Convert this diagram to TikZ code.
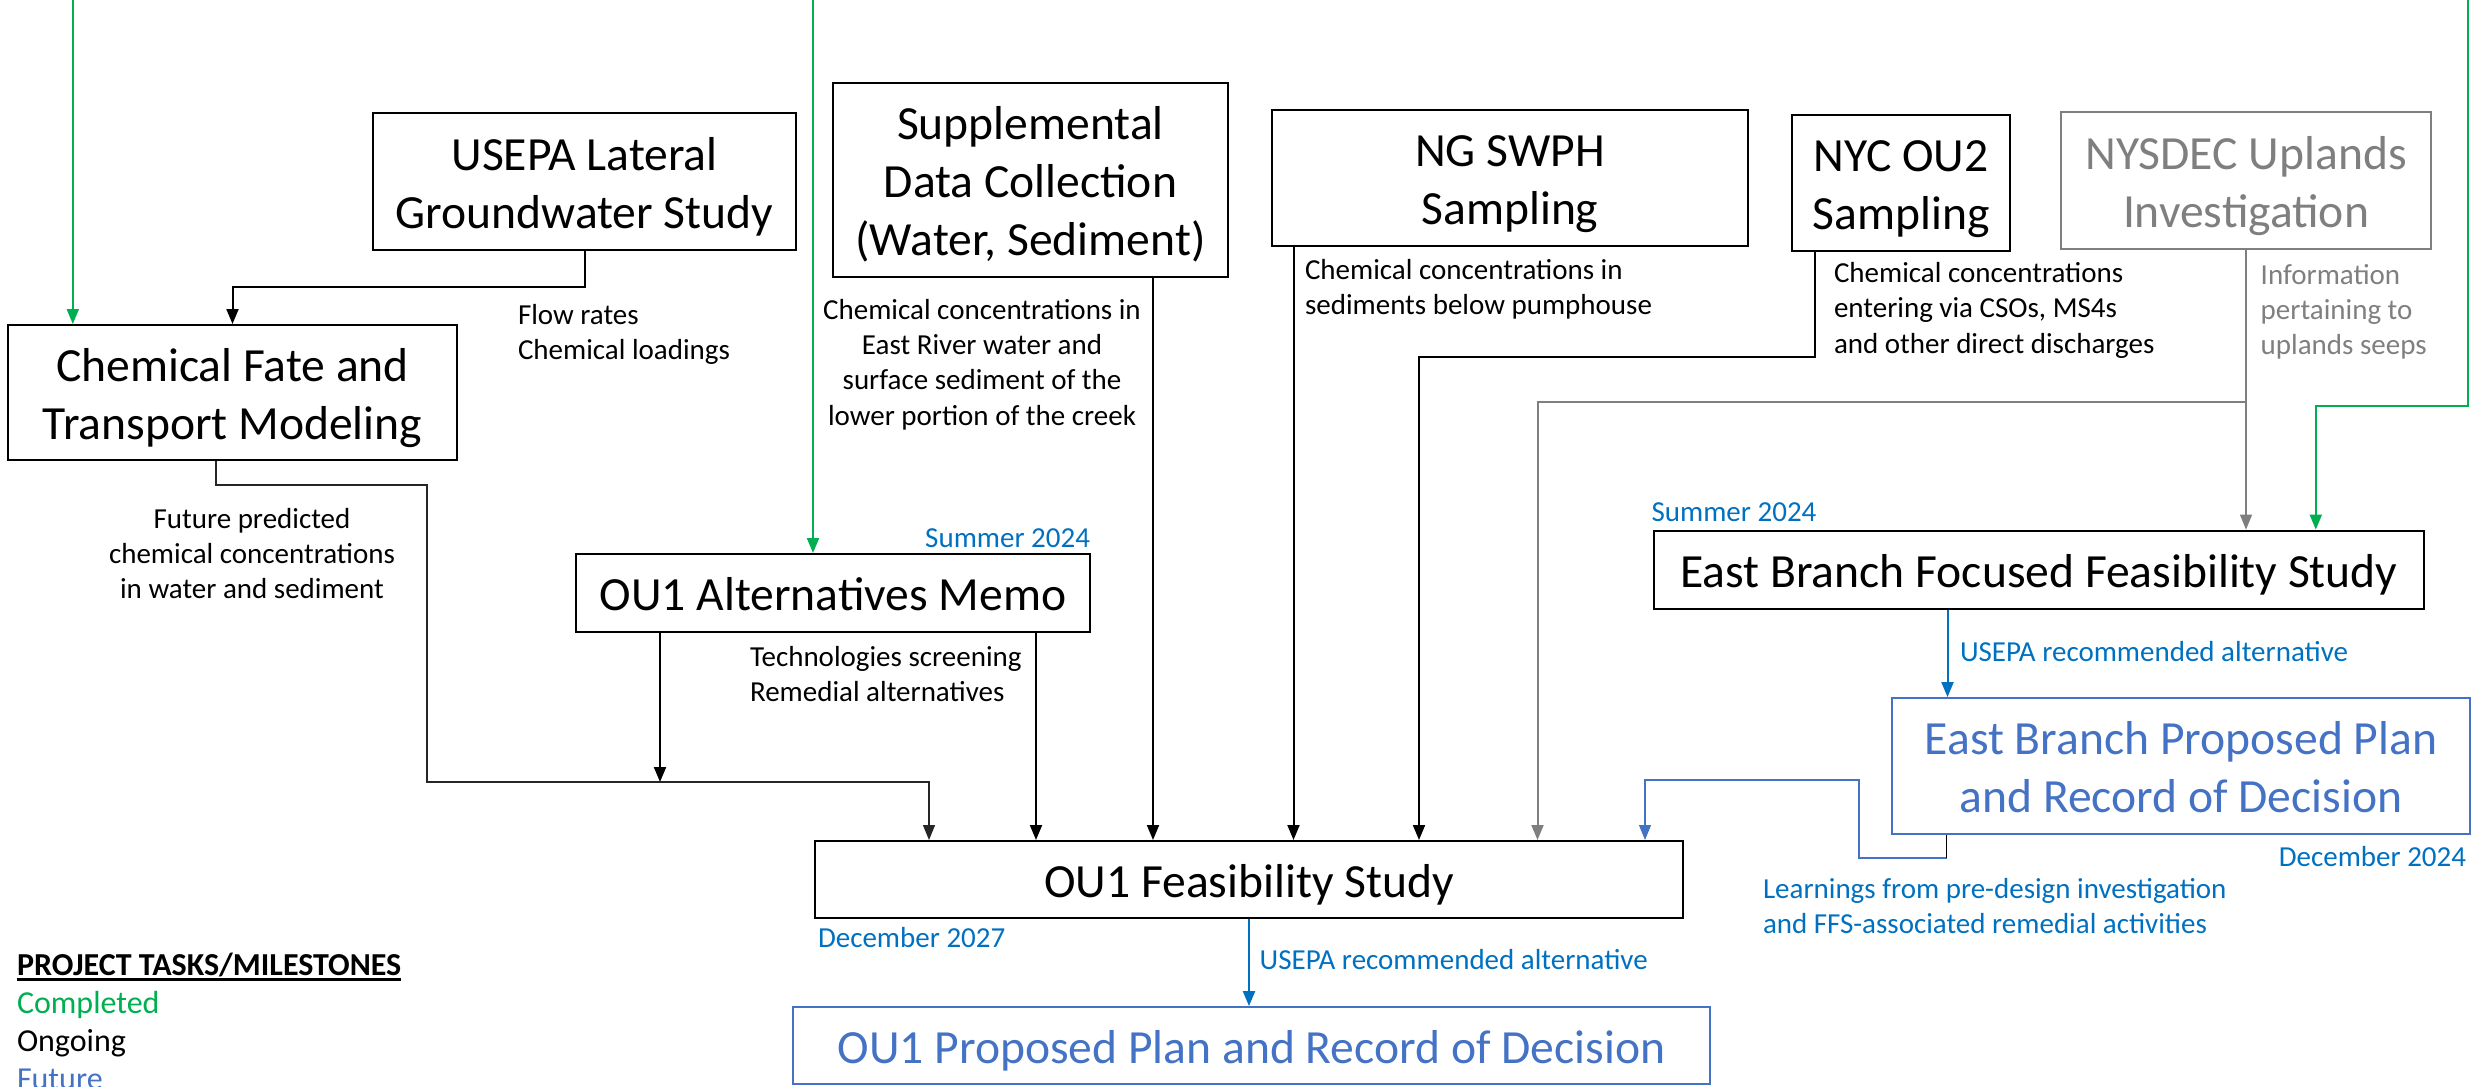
\documentclass[tikz,border=0pt]{standalone}
\usepackage{fontspec}
\setmainfont{Carlito}
\usetikzlibrary{arrows.meta}
\definecolor{cgreen}{HTML}{00B050}
\definecolor{cblue}{HTML}{0070C0}
\definecolor{cacc}{HTML}{4472C4}
\definecolor{cgray}{HTML}{7F7F7F}
\newcommand\bigf{\fontsize{47.6}{58}\selectfont}
\newcommand\smallf{\fontsize{29}{35.4}\selectfont}
\newcommand\legf{\fontsize{32}{38}\selectfont}
\newcommand\mytop{\rule{0pt}{49.9pt}}
\newcommand\mybot{\rule[-14.3pt]{0pt}{14.3pt}}
\newsavebox\myulbox
\newcommand\myul[1]{\sbox\myulbox{#1}\rlap{\rule[-5.5pt]{\wd\myulbox}{2.8pt}}\usebox\myulbox}
\tikzset{
  box/.style={draw, line width=2pt, inner sep=0pt, align=center, font=\bigf},
  futbox/.style={box, draw=cacc, text=cacc, line width=1.8pt},
  lbl/.style={inner sep=0pt, outer sep=0pt, font=\smallf, anchor=north west, align=left},
  lblc/.style={lbl, anchor=north, align=center},
  lblr/.style={lbl, anchor=north east, align=right},
  arrowtip/.style={-{Triangle[length=15pt,width=12pt]}},
  conn/.style={arrowtip, line width=2pt, black},
  thinconn/.style={arrowtip, line width=1.3pt, black!85},
  gconn/.style={arrowtip, line width=2pt, cgreen},
  grconn/.style={arrowtip, line width=2pt, cgray},
  grthin/.style={arrowtip, line width=1.3pt, cgray},
  bconn/.style={arrowtip, line width=2pt, cblue},
  lconn/.style={arrowtip, line width=1.3pt, cacc},
}
\begin{document}
\begin{tikzpicture}[x=1pt,y=-1pt]
\useasboundingbox (0,0) rectangle (2474,1087);

% boxes
\node[box, minimum width=423, minimum height=137] (usepa) at (584.5,181.5) {\mytop USEPA Lateral\\Groundwater Study\mybot};
\node[box, minimum width=449, minimum height=135] (chemfate) at (232.5,392.5) {\mytop Chemical Fate and\\Transport Modeling\mybot};
\node[box, minimum width=395, minimum height=194] (supp) at (1030.5,179.5) {\mytop Supplemental\\Data Collection\\(Water, Sediment)\mybot};
\node[box, minimum width=476, minimum height=136] (ngswph) at (1510,178) {\mytop NG SWPH\\Sampling\mybot};
\node[box, minimum width=218, minimum height=136] (nyc) at (1901,183) {\mytop NYC OU2\\Sampling\mybot};
\node[box, draw=cgray, text=cgray, minimum width=370, minimum height=137] (nysdec) at (2246,180.5) {\mytop NYSDEC Uplands\\Investigation\mybot};
\node[box, minimum width=514, minimum height=78] (altmemo) at (833,593) {\mytop OU1 Alternatives Memo\mybot};
\node[box, minimum width=770, minimum height=78] (ebffs) at (2039,569.6) {\mytop East Branch Focused Feasibility Study\mybot};
\node[futbox, minimum width=578, minimum height=136] (ebpp) at (2181,766) {\mytop East Branch Proposed Plan\\and Record of Decision\mybot};
\node[box, minimum width=868, minimum height=77] (ou1fs) at (1249,879.5) {\mytop OU1 Feasibility Study\mybot};
\node[futbox, minimum width=917, minimum height=77] (ou1pp) at (1251.5,1045.5) {\mytop OU1 Proposed Plan and Record of Decision\mybot};

% labels
\node[lbl] (lflow) at (518,299.3) {\strut Flow rates\\Chemical loadings};
\node[lblc] (lsupp) at (982,294.3) {\strut Chemical concentrations in\\East River water and\\surface sediment of the\\lower portion of the creek};
\node[lblc] (lfut) at (252,503.3) {\strut Future predicted\\chemical concentrations\\in water and sediment};
\node[lbl] (ltech) at (750,641.3) {\strut Technologies screening\\Remedial alternatives};
\node[lbl] (lng) at (1305,254.8) {\strut Chemical concentrations in\\sediments below pumphouse};
\node[lbl] (lnyc) at (1834,257.8) {\strut Chemical concentrations\\entering via CSOs, MS4s\\and other direct discharges};
\node[lbl, text=cgray] (lnys) at (2260.7,259.3) {\strut Information\\pertaining to\\uplands seeps};
\node[lblr, text=cblue] (lsum1) at (1090,522.3) {\strut Summer 2024};
\node[lbl, text=cblue] (lsum2) at (1651.6,496.3) {\strut Summer 2024};
\node[lbl, text=cblue] (lrec1) at (1960,636.3) {\strut USEPA recommended alternative};
\node[lblr, text=cblue] (ldec24) at (2466,841.3) {\strut December 2024};
\node[lbl, text=cblue] (llearn) at (1763,873.3) {\strut Learnings from pre-design investigation\\and FFS-associated remedial activities};
\node[lbl, text=cblue] (ldec27) at (818,922.3) {\strut December 2027};
\node[lbl, text=cblue] (lrec2) at (1259.7,945) {\strut USEPA recommended alternative};
\node[lbl, font=\legf] (legend) at (17,948.4) {\strut\myul{\textbf{PROJECT TASKS/MILESTONES}}\\\textcolor{cgreen}{Completed}\\Ongoing\\\textcolor{cacc}{Future}};

% green (completed) inputs
\coordinate (g1) at (72.8,0);
\coordinate (g2) at (813,0);
\coordinate (g3) at (2467.7,0);
\coordinate (g3b) at (2315.8,406);
\draw[gconn] (g1) -- (g1 |- chemfate.north);
\draw[gconn] (g2) -- (g2 |- altmemo.north);
\draw[gconn] (g3) |- (g3b) -- (g3b |- ebffs.north);

% USEPA -> chem fate
\draw[conn] (usepa.south) -- ++(0,36) -| (chemfate.north);

% chem fate -> OU1 FS
\coordinate (cf1) at ([xshift=-16.5]chemfate.south);
\coordinate (cf2) at (427,485);
\coordinate (cf3) at (929,782);
\draw[thinconn] (cf1) |- (cf2) |- (cf3) -- (cf3 |- ou1fs.north);

% alternatives memo
\coordinate (am1) at ([xshift=-173]altmemo.south);
\coordinate (am2) at ([xshift=203]altmemo.south);
\draw[conn] (am1) -- (am1 |- cf3);
\draw[conn] (am2) -- (am2 |- ou1fs.north);

% supplemental
\coordinate (s1) at ([xshift=122.5]supp.south);
\draw[conn] (s1) -- (s1 |- ou1fs.north);

% NG SWPH
\coordinate (n1) at ([xshift=-216.5]ngswph.south);
\draw[conn] (n1) -- (n1 |- ou1fs.north);

% NYC OU2
\coordinate (ny1) at ([xshift=-86]nyc.south);
\coordinate (ny2) at (1419,357);
\draw[conn] (ny1) |- (ny2) -- (ny2 |- ou1fs.north);

% NYSDEC
\coordinate (nd2) at (1537.5,402);
\draw[grthin] (nysdec.south) -- (nysdec.south |- ebffs.north);
\draw[grconn] (nysdec.south |- nd2) -- (nd2) -- (nd2 |- ou1fs.north);

% East Branch FFS -> PP
\coordinate (eb1) at ([xshift=-91.5]ebffs.south);
\draw[bconn] (eb1) -- (eb1 |- ebpp.north);

% East Branch PP -> OU1 FS
\coordinate (ep1) at ([xshift=-234.3]ebpp.south);
\coordinate (ep2) at (1859,858);
\coordinate (ep3) at (1645,780);
\draw[lconn] (ep1) |- (ep2) |- (ep3) -- (ep3 |- ou1fs.north);
\draw[line width=1.3pt, black] (ep1) -- (ep1 |- ep2);

% OU1 FS -> OU1 PP
\draw[bconn] (ou1fs.south) -- (ou1fs.south |- ou1pp.north);
\end{tikzpicture}
\end{document}
